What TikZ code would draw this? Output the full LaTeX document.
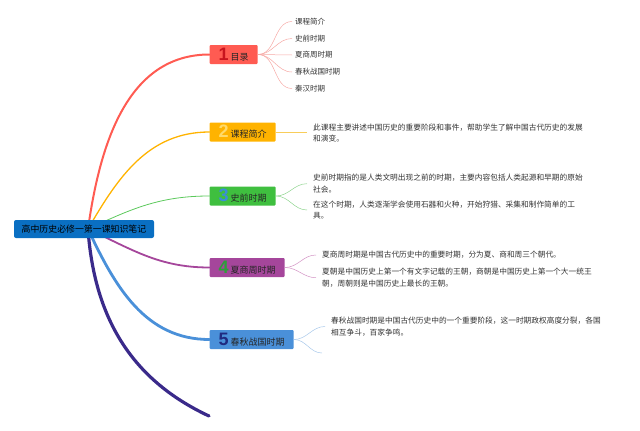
\documentclass[tikz,border=0pt]{standalone}
\usepackage{fontspec}
\setmainfont{Noto Sans CJK SC}
\newfontfamily\numfont{Liberation Sans}
\usepackage{tikz}
\usetikzlibrary{calc, positioning}
\pgfdeclarelayer{bg}
\pgfsetlayers{bg,main}

\definecolor{rootblue}{HTML}{0A6FC2}
\definecolor{boxred}{HTML}{FF5B52}
\definecolor{boxorange}{HTML}{FFB300}
\definecolor{boxgreen}{HTML}{3FBF3F}
\definecolor{boxpurple}{HTML}{A5469B}
\definecolor{boxblue}{HTML}{4A90D9}
\definecolor{numred}{HTML}{C8141E}
\definecolor{numyellow}{HTML}{FFDA6A}
\definecolor{numblue}{HTML}{3A8FD8}
\definecolor{numgreen}{HTML}{2E9E3A}
\definecolor{numnavy}{HTML}{1F2A80}
\definecolor{lineindigo}{HTML}{3A2A8A}
\definecolor{twigred}{HTML}{F6A8A4}
\definecolor{twigorange}{HTML}{F8CD5A}
\definecolor{twiggreen}{HTML}{8FD48F}
\definecolor{twigpurple}{HTML}{D393C4}
\definecolor{twigblue}{HTML}{A8C8EA}

\newcommand{\branchnum}[2]{{\color{#1}\numfont\fontsize{18}{18}\selectfont\bfseries #2}\hspace{2pt}}

\tikzset{
	root/.style={rectangle, rounded corners=2pt, fill=rootblue, text=black, minimum width=140pt, minimum height=18pt, inner sep=0pt, font=\fontsize{8.9}{10}\selectfont},
	topic/.style={rectangle, rounded corners=1pt, fill=#1, anchor=west, text=black!85, minimum height=19pt, inner xsep=9pt, inner ysep=2pt, font=\fontsize{9}{10}\selectfont},
	leaf/.style={anchor=west, align=left, inner xsep=6pt, inner ysep=1pt, text=black!80, font=\fontsize{7.7}{11.5}\selectfont},
	item/.style={anchor=west, inner xsep=3pt, inner ysep=1pt, text=black!80, font=\fontsize{7.5}{9}\selectfont},
	branch/.style={draw=#1, line cap=round},
	twig/.style={draw=#1, line width=0.5pt},
}

\begin{document}
\begin{tikzpicture}
		[x=1pt, y=1pt]
		\useasboundingbox (0,0) rectangle (640,-431);
		% nodes %
		\node[root] (root) at (84,-229) {高中历史必修一第一课知识笔记};
		\coordinate (hub) at (88,-229);

		\node[topic=boxred] (t1) at (209.5,-54.5) {\branchnum{numred}{1}目录};
		\node[topic=boxorange] (t2) at (209.5,-132) {\branchnum{numyellow}{2}课程简介};
		\node[topic=boxgreen] (t3) at (209.5,-196) {\branchnum{numblue}{3}史前时期};
		\node[topic=boxpurple] (t4) at (209.5,-267.5) {\branchnum{numgreen}{4}夏商周时期};
		\node[topic=boxblue] (t5) at (209.5,-339.5) {\branchnum{numnavy}{5}春秋战国时期};
		\coordinate (t6) at (209,-416);

		\node[item] (i1) at (292,-21.5) {课程简介};
		\node[item] (i2) at (292,-38.5) {史前时期};
		\node[item] (i3) at (292,-55) {夏商周时期};
		\node[item] (i4) at (292,-72) {春秋战国时期};
		\node[item] (i5) at (292,-88.5) {秦汉时期};

		\node[leaf] (l2) at (307,-133) {此课程主要讲述中国历史的重要阶段和事件，帮助学生了解中国古代历史的发展\\和演变。};
		\node[leaf] (l3a) at (307,-183.7) {史前时期指的是人类文明出现之前的时期，主要内容包括人类起源和早期的原始\\社会。};
		\node[leaf] (l3b) at (307,-210) {在这个时期，人类逐渐学会使用石器和火种，开始狩猎、采集和制作简单的工\\具。};
		\node[leaf] (l4a) at (316,-255) {夏商周时期是中国古代历史中的重要时期，分为夏、商和周三个朝代。};
		\node[leaf] (l4b) at (316,-277.7) {夏朝是中国历史上第一个有文字记载的王朝，商朝是中国历史上第一个大一统王\\朝，周朝则是中国历史上最长的王朝。};
		\node[leaf] (l5a) at (325,-326.5) {春秋战国时期是中国古代历史中的一个重要阶段，这一时期政权高度分裂，各国\\相互争斗，百家争鸣。};
		\coordinate (l5b) at (322,-353);

		% edges %
		\begin{pgfonlayer}{bg}
		\draw[branch=boxred, line width=2pt] (hub) to [out=82, in=180] (t1.west);
		\draw[branch=boxorange, line width=1.3pt] (hub) to [out=60, in=180] (t2.west);
		\draw[branch=boxgreen!85!white, line width=0.8pt] (hub) to [out=25, in=180] (t3.west);
		\draw[branch=boxpurple, line width=1.8pt] (hub) to [out=-25, in=180] (t4.west);
		\draw[branch=boxblue, line width=2.8pt] (hub) to [out=-65, in=180] (t5.west);
		\draw[branch=lineindigo, line width=3.2pt] (hub) to [out=-86, in=155] (t6);
		\end{pgfonlayer}

		\foreach \i in {i1,i2,i3,i4,i5}
			\draw[twig=twigred] (t1.east) to [out=0, in=180] (\i.west);
		\draw[twig=twigorange, line width=0.8pt] (t2.east) -- (l2.west |- t2.east);
		\draw[twig=twiggreen] (t3.east) to [out=0, in=180] (l3a.west);
		\draw[twig=twiggreen] (t3.east) to [out=0, in=180] (l3b.west);
		\draw[twig=twigpurple] (t4.east) to [out=0, in=180] (l4a.west);
		\draw[twig=twigpurple] (t4.east) to [out=0, in=180] (l4b.west);
		\draw[twig=twigblue] (t5.east) to [out=0, in=180] (l5a.west);
		\draw[twig=twigblue] (t5.east) to [out=0, in=180] (l5b);
\end{tikzpicture}
\end{document}
